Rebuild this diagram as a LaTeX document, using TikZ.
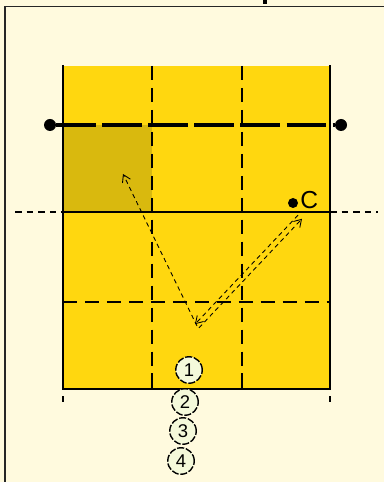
\documentclass[tikz,border=0pt]{standalone}
\usepackage{fontspec}
\setmainfont{Liberation Sans}
\usetikzlibrary{arrows.meta}
\definecolor{paper}{RGB}{255,250,222}
\definecolor{court}{RGB}{255,215,15}
\definecolor{zone}{RGB}{217,185,14}
\definecolor{chip}{RGB}{244,249,218}

\begin{document}
\begin{tikzpicture}[x=0.02cm, y=-0.02cm,
    player/.style={circle, draw, fill=chip, line width=0.8pt, dash pattern=on 4pt off 1pt, minimum size=0.53cm, inner sep=0pt, font=\fontsize{10.5}{11}\selectfont},
    post/.style={circle, fill=black, minimum size=0.24cm, inner sep=0pt},
    dot/.style={circle, fill=black, minimum size=0.2cm, inner sep=0pt},
    side/.style={line width=1.4pt},
    net/.style={line width=2.3pt, dash pattern=on 22.4pt off 3.8pt},
    grid/.style={line width=0.8pt, dash pattern=on 8pt off 4.5pt},
    ext/.style={line width=1.1pt, dash pattern=on 3.8pt off 2.8pt},
    pass/.style={-{Straight Barb[length=4pt, width=5pt]}, line width=0.5pt, dash pattern=on 2.5pt off 2pt}
]
\clip (0,0) rectangle (384,482);
% Frame
\fill[paper] (0,0) rectangle (384,482);
\draw[line width=1.1pt, black!85] (5,500) -- (5,6.5) -- (400,6.5);
\fill (263,-2) rectangle (267,4);

% Court
\fill[court] (63,66) rectangle (330,389);
\fill[zone] (63,125) rectangle (152,212);
\draw[grid] (152,66) -- (152,389);
\draw[grid] (242,66) -- (242,389);
\draw[side] (152,378) -- (152,389) (242,378) -- (242,389);
\draw[grid] (63,302) -- (330,302);
\draw[side] (63,65) -- (63,389) -- (330,389) -- (330,65);
\draw[side] (63,212) -- (330,212);
\draw[ext] (15,212) -- (63,212);
\draw[ext] (330,212) -- (378,212);
\draw[side] (63,396) -- (63,402) (330,396) -- (330,402);

% Nodes
\node[post] (postL) at (50,125) {};
\node[post] (postR) at (341,125) {};
\node[dot] (c) at (293,203) {};
\node[anchor=west, inner sep=1pt, font=\fontsize{14}{15}\selectfont] (clabel) at ([yshift=0.06cm]c.east) {C};
\node[player] (p1) at (189,370) {1};
\node[player] (p2) at (185,402) {2};
\node[player] (p3) at (183,431) {3};
\node[player] (p4) at (181,461) {4};
\coordinate (hit) at (197,326);
\coordinate (target) at (123,174);
\coordinate (cpass) at (300,217);

% Arrows
\draw[net] (postL) -- (postR);
\draw[pass] (hit) -- (target);
\draw[pass] ([shift={(-2,-1.8)}]cpass) -- ([shift={(-2,-1.8)}]hit);
\draw[pass] ([shift={(2,1.8)}]hit) -- ([shift={(2,1.8)}]cpass);
\end{tikzpicture}
\end{document}
